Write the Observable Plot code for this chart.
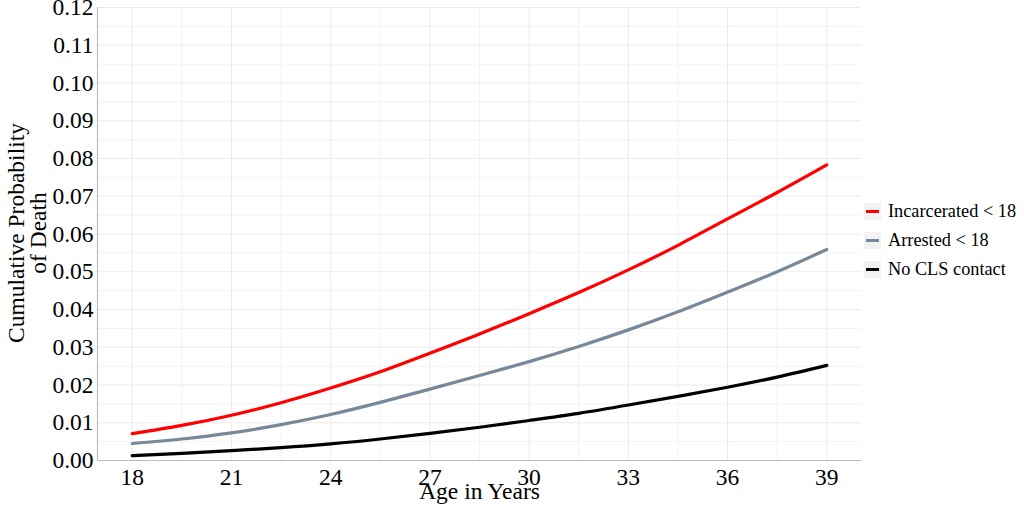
<!DOCTYPE html>
<html>
<head>
<meta charset="utf-8">
<script src="https://cdn.jsdelivr.net/npm/d3@7"></script>
<script src="https://cdn.jsdelivr.net/npm/@observablehq/plot@0.6"></script>
<style>
  html, body { margin: 0; padding: 0; background: #fff; }
  #wrap { position: relative; width: 1024px; height: 509px; font-family: "Liberation Serif", serif; }
  #wrap svg { overflow: visible; }
  #legend { position: absolute; left: 864px; top: 197px; font-size: 18.3px; color: #000; }
  .item { display: flex; align-items: center; height: 29px; }
  .key { width: 17px; height: 17px; background: #f2f2f2; display: flex; align-items: center; justify-content: center; margin-right: 7px; }
  .key span { display: block; width: 13px; height: 3px; }
  .ytitle { position: absolute; font-size: 23.5px; line-height: 22px; white-space: nowrap; transform-origin: center; text-align: center; }
</style>
</head>
<body>
<div id="wrap"></div>
<script>
const ages = [18, 19.5, 21, 22.5, 24, 25.5, 27, 28.5, 30, 31.5, 33, 34.5, 36, 37.5, 39];
const incarcerated = [0.0071, 0.0093, 0.0120, 0.0153, 0.0192, 0.0235, 0.0284, 0.0335, 0.0389, 0.0445, 0.0505, 0.0570, 0.0640, 0.0710, 0.0783];
const arrested = [0.0045, 0.0057, 0.0073, 0.0095, 0.0122, 0.0154, 0.0189, 0.0225, 0.0262, 0.0302, 0.0346, 0.0394, 0.0446, 0.0500, 0.0559];
const noContact = [0.0013, 0.0019, 0.0026, 0.0034, 0.0044, 0.0057, 0.0072, 0.0088, 0.0106, 0.0125, 0.0147, 0.0170, 0.0194, 0.0221, 0.0252];
const seriesNames = ["Incarcerated < 18", "Arrested < 18", "No CLS contact"];
const seriesColors = ["red", "#778899", "#000000"];
const xTicks = [18, 21, 24, 27, 30, 33, 36, 39];
const xMinor = [19.5, 22.5, 25.5, 28.5, 31.5, 34.5, 37.5];
const yTicks = [0, 0.01, 0.02, 0.03, 0.04, 0.05, 0.06, 0.07, 0.08, 0.09, 0.10, 0.11, 0.12];
const yMinor = [0.005, 0.015, 0.025, 0.035, 0.045, 0.055, 0.065, 0.075, 0.085, 0.095, 0.105, 0.115];
const xDomain = [16.95, 40.05];
const yDomain = [0, 0.12];

const data = [];
[incarcerated, arrested, noContact].forEach((vals, i) => {
  ages.forEach((a, j) => data.push({age: a, p: vals[j], series: seriesNames[i]}));
});

const chart = Plot.plot({
  width: 1024,
  height: 509,
  marginLeft: 97,
  marginRight: 163,
  marginTop: 7,
  marginBottom: 49,
  style: { fontFamily: "Liberation Serif, serif", fontSize: "23.5px", color: "#000", background: "#fff", overflow: "visible" },
  x: { domain: xDomain },
  y: { domain: yDomain },
  color: { domain: seriesNames, range: seriesColors },
  marks: [
    Plot.ruleX(xMinor, { stroke: "#f3f3f3", strokeWidth: 1 }),
    Plot.ruleY(yMinor, { stroke: "#f3f3f3", strokeWidth: 1 }),
    Plot.ruleX(xTicks, { stroke: "#ebebeb", strokeWidth: 1 }),
    Plot.ruleY(yTicks, { stroke: "#ebebeb", strokeWidth: 1 }),
    Plot.ruleY([yDomain[0]], { stroke: "#bdbdbd", strokeWidth: 1.2 }),
    Plot.ruleX([xDomain[0]], { stroke: "#bdbdbd", strokeWidth: 1.2 }),
    Plot.axisX({ ticks: xTicks, tickSize: 0, tickPadding: 8, label: null, fontSize: 23.5 }),
    Plot.axisY({ ticks: yTicks, tickSize: 0, tickPadding: 4, tickFormat: d3.format(".2f"), label: null, fontSize: 23.5 }),
    Plot.line(data, { x: "age", y: "p", stroke: "series", strokeWidth: 3.2, curve: "natural" }),
    Plot.text(["Age in Years"], { frameAnchor: "bottom", dy: 31, fontSize: 23.5, lineAnchor: "middle" })
  ]
});
const wrap = document.getElementById("wrap");
wrap.appendChild(chart);

// y axis title (two lines, rotated)
const yt = document.createElement("div");
yt.className = "ytitle";
yt.innerHTML = "Cumulative Probability<br>of Death";
wrap.appendChild(yt);
const w = yt.offsetWidth, h = yt.offsetHeight;
yt.style.left = (27 - w / 2) + "px";
yt.style.top = (233 - h / 2) + "px";
yt.style.transform = "rotate(-90deg)";

const legend = document.createElement("div");
legend.id = "legend";
seriesNames.forEach((n, i) => {
  const it = document.createElement("div");
  it.className = "item";
  it.innerHTML = `<div class="key"><span style="background:${seriesColors[i]}"></span></div><div>${n.replace("<", "&lt;")}</div>`;
  legend.appendChild(it);
});
wrap.appendChild(legend);
</script>
</body>
</html>
